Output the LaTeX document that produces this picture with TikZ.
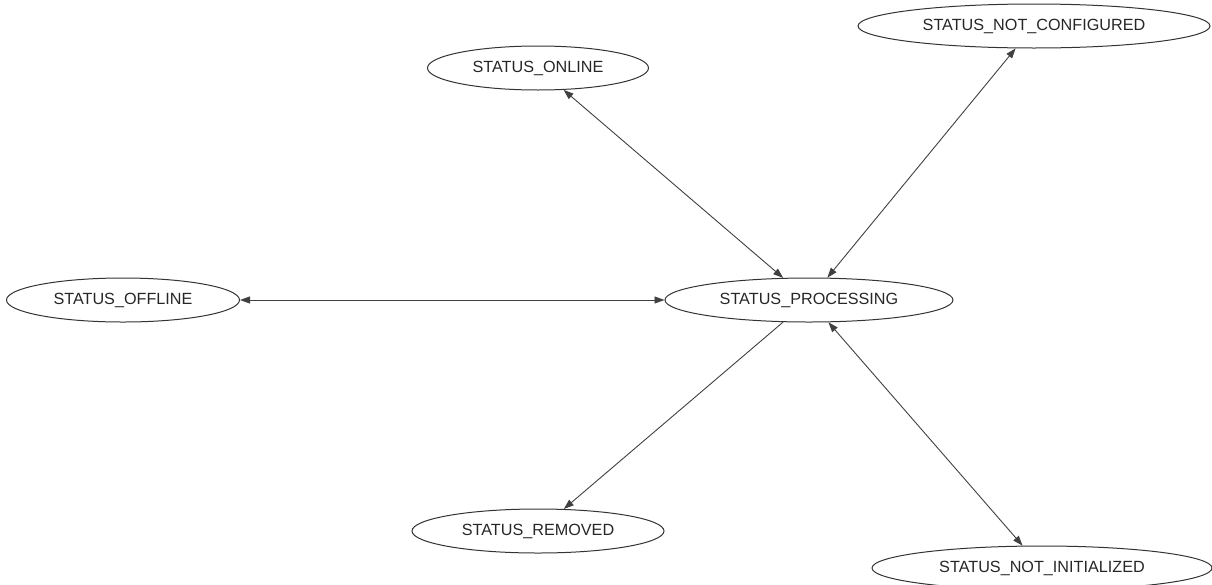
\documentclass[tikz,border=0pt]{standalone}
\usepackage{fontspec}
\setmainfont{Liberation Sans}
\usetikzlibrary{shapes.geometric,arrows.meta}

\begin{document}
\begin{tikzpicture}[x=1pt,y=-1pt,
  >={Triangle[length=10pt,width=7pt]},
  state/.style={draw=black!80, line width=1pt, ellipse, inner sep=0pt,
    minimum height=44pt, font=\fontsize{16.2}{18}\selectfont, text=black!85},
  link/.style={draw=black!75, line width=0.9pt}
]
  \useasboundingbox (0,0) rectangle (1212,584);
  \clip (0,0) rectangle (1212,584);

  % states
  \node[state, minimum width=221pt] (online)   at (538,68)   {STATUS\_ONLINE};
  \node[state, minimum width=352pt] (notconf)  at (1034,26)  {STATUS\_NOT\_CONFIGURED};
  \node[state, minimum width=233pt] (offline)  at (123,300)  {STATUS\_OFFLINE};
  \node[state, minimum width=288pt] (proc)     at (809,300)  {STATUS\_PROCESSING};
  \node[state, minimum width=252pt] (removed)  at (538,531)  {STATUS\_REMOVED};
  \node[state, minimum width=340pt] (notinit)  at (1042,568) {STATUS\_NOT\_INITIALIZED};

  % transitions
  \draw[link, <->] (proc) -- (online);
  \draw[link, <->] (proc) -- (notconf);
  \draw[link, <->] (proc) -- (offline);
  \draw[link, ->]  (proc) -- (removed);
  \draw[link, <->] (proc) -- (notinit);
\end{tikzpicture}
\end{document}
